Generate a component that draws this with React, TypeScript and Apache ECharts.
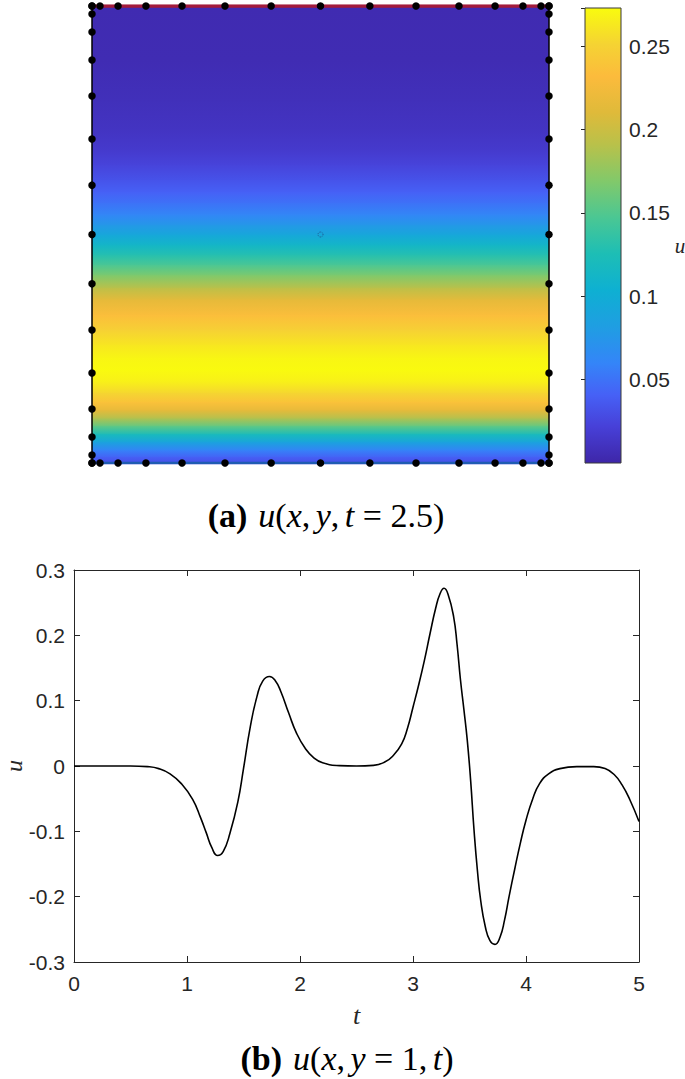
import React, { useEffect, useRef } from "react";
import * as echarts from "echarts";

// ---- Panel (a): vertical profile of u(x, y, t = 2.5) (y normalised: 0 bottom, 1 top) ----
const profileY = [1.0, 0.882, 0.794, 0.729, 0.685, 0.652, 0.619, 0.593, 0.569, 0.543, 0.521, 0.499, 0.477, 0.455, 0.433, 0.411, 0.383, 0.357, 0.324, 0.291, 0.258, 0.23, 0.204, 0.177, 0.153, 0.133, 0.116, 0.098, 0.081, 0.063, 0.046, 0.028, 0.013, 0.0];
const profileU = [0.004, 0.005, 0.008, 0.012, 0.017, 0.024, 0.033, 0.041, 0.05, 0.062, 0.077, 0.094, 0.113, 0.13, 0.148, 0.168, 0.193, 0.215, 0.234, 0.249, 0.262, 0.27, 0.2725, 0.266, 0.252, 0.237, 0.215, 0.187, 0.155, 0.12, 0.088, 0.058, 0.04, 0.03];

// boundary nodes (same positions on every side)
const nodePositions = [0, 0.0175, 0.057, 0.118, 0.197, 0.291, 0.392, 0.5, 0.608, 0.709, 0.803, 0.882, 0.943, 0.9825, 1];
const centerPoint = [0.5, 0.5];

const colorbarMin = 0;
const colorbarMax = 0.2728;
const colorbarTicks = [0.05, 0.1, 0.15, 0.2, 0.25];

// ---- Panel (b): u(x, y = 1, t) ----
const timeT = [0, 0.5, 0.65, 0.75, 0.85, 0.95, 1.05, 1.12, 1.17, 1.22, 1.27, 1.32, 1.38, 1.45, 1.5, 1.56, 1.62, 1.67, 1.73, 1.78, 1.83, 1.9, 1.97, 2.05, 2.12, 2.2, 2.35, 2.5, 2.65, 2.75, 2.82, 2.9, 2.95, 3.0, 3.05, 3.1, 3.15, 3.2, 3.24, 3.275, 3.31, 3.36, 3.39, 3.42, 3.45, 3.48, 3.51, 3.54, 3.57, 3.6, 3.64, 3.68, 3.725, 3.77, 3.81, 3.85, 3.9, 3.95, 4.0, 4.06, 4.12, 4.2, 4.3, 4.45, 4.6, 4.7, 4.78, 4.85, 4.92, 5.0];
const valueU = [0, 0, -0.001, -0.004, -0.012, -0.027, -0.051, -0.079, -0.102, -0.125, -0.137, -0.131, -0.103, -0.055, -0.004, 0.06, 0.107, 0.13, 0.137, 0.131, 0.114, 0.081, 0.05, 0.026, 0.013, 0.005, 0.0005, 0, 0.001, 0.006, 0.015, 0.034, 0.057, 0.09, 0.124, 0.161, 0.202, 0.241, 0.264, 0.272, 0.263, 0.228, 0.186, 0.132, 0.087, 0.04, -0.022, -0.098, -0.16, -0.207, -0.246, -0.267, -0.273, -0.262, -0.236, -0.2, -0.158, -0.118, -0.083, -0.05, -0.027, -0.012, -0.004, -0.001, -0.001, -0.004, -0.013, -0.029, -0.052, -0.085];
const tTicks = [0, 1, 2, 3, 4, 5];
const uTicks = [-0.3, -0.2, -0.1, 0, 0.1, 0.2, 0.3];

// parula colormap anchors
const parulaStops: [number, string][] = [
  [0.0, "#3E26A8"],
  [0.08, "#4740D8"],
  [0.15, "#4661F6"],
  [0.22, "#3485F8"],
  [0.3, "#1F9EE2"],
  [0.38, "#0EB0D2"],
  [0.46, "#1DBEB5"],
  [0.54, "#4BC793"],
  [0.62, "#82C96A"],
  [0.7, "#B9C14A"],
  [0.77, "#DFBA3A"],
  [0.85, "#FCBB3C"],
  [0.92, "#F5D333"],
  [1.0, "#F9FB0E"],
];

function hexToRgb(h: string) {
  const n = parseInt(h.slice(1), 16);
  return [(n >> 16) & 255, (n >> 8) & 255, n & 255];
}

function parula(f: number) {
  const x = Math.max(0, Math.min(1, f));
  for (let i = 0; i < parulaStops.length - 1; i++) {
    const [a, ca] = parulaStops[i];
    const [b, cb] = parulaStops[i + 1];
    if (x >= a && x <= b) {
      const k = (x - a) / (b - a);
      const A = hexToRgb(ca);
      const B = hexToRgb(cb);
      const c = A.map((v, j) => Math.round(v + (B[j] - v) * k));
      return `rgb(${c[0]},${c[1]},${c[2]})`;
    }
  }
  return parulaStops[parulaStops.length - 1][1];
}

const uColor = (u: number) => parula((u - colorbarMin) / (colorbarMax - colorbarMin));

const LABEL_FONT = "'Liberation Sans', Arial, Helvetica, sans-serif";
const SERIF = "'Liberation Serif', 'Times New Roman', serif";
const AXIS_COLOR = "#262626";

export default function App() {
  const ref = useRef<HTMLDivElement>(null);

  useEffect(() => {
    document.body.style.margin = "0";
    const chart = echarts.init(ref.current!, undefined, { renderer: "svg" });

    const segments = profileY.slice(0, -1).map((y, i) => [y, profileY[i + 1], profileU[i], profileU[i + 1]]);
    const nodes: number[][] = [];
    nodePositions.forEach((p) => {
      nodes.push([p, 0], [p, 1], [0, p], [1, p]);
    });
    const lineData = timeT.map((t, i) => [t, valueU[i]]);

    const tickLabel = (ticks: number[]) => (v: number) => {
      const hit = ticks.find((t) => Math.abs(t - v) < 1e-6);
      if (hit === undefined) return "";
      return String(Math.round(hit * 100) / 100);
    };

    const boxAxis = {
      axisLine: { show: true, onZero: false, lineStyle: { color: AXIS_COLOR, width: 1 } },
      axisTick: { show: true, inside: true, length: 6, lineStyle: { color: AXIS_COLOR, width: 1 } },
      splitLine: { show: false },
    };

    const FS = 34;
    const rich = {
      b: { fontFamily: SERIF, fontWeight: "bold", fontSize: FS, fill: "#000" },
      i: { fontFamily: SERIF, fontStyle: "italic", fontSize: FS, fill: "#000" },
      r: { fontFamily: SERIF, fontSize: FS, fill: "#000" },
      s: { fontFamily: SERIF, fontSize: 22, fill: "#000" },
    };

    const option: any = {
      animation: false,
      backgroundColor: "#ffffff",
      grid: [
        { left: 92, top: 6, width: 457, height: 457, outerBoundsMode: "none", containLabel: false },
        { left: 585, top: 8, width: 36, height: 455, outerBoundsMode: "none", containLabel: false },
        { left: 74, top: 570, width: 565, height: 392, outerBoundsMode: "none", containLabel: false },
      ],
      xAxis: [
        { gridIndex: 0, type: "value", min: 0, max: 1, show: false },
        { gridIndex: 1, type: "value", min: 0, max: 1, show: false },
        {
          gridIndex: 2, type: "value", min: 0, max: 5, interval: 1, position: "bottom",
          ...boxAxis,
          axisLabel: { margin: 11, fontSize: 21, color: AXIS_COLOR, fontFamily: LABEL_FONT, formatter: tickLabel(tTicks) },
          name: "t", nameLocation: "middle", nameGap: 40,
          nameTextStyle: { fontFamily: SERIF, fontStyle: "italic", fontSize: 26, color: AXIS_COLOR },
        },
        {
          gridIndex: 2, type: "value", min: 0, max: 5, interval: 1, position: "top",
          ...boxAxis, axisLabel: { show: false },
        },
      ],
      yAxis: [
        { gridIndex: 0, type: "value", min: 0, max: 1, show: false },
        {
          gridIndex: 1, type: "value", min: colorbarMin, max: colorbarMax, interval: 0.05, position: "right",
          axisLine: { show: true, lineStyle: { color: "#9a9a9a", width: 1 } },
          axisTick: { show: true, inside: true, length: 4, lineStyle: { color: AXIS_COLOR } },
          splitLine: { show: false },
          axisLabel: { margin: 8, fontSize: 21, color: AXIS_COLOR, fontFamily: LABEL_FONT, formatter: tickLabel(colorbarTicks), showMinLabel: false },
          name: "u", nameLocation: "middle", nameRotate: 0, nameGap: 46,
          nameTextStyle: { fontFamily: SERIF, fontStyle: "italic", fontSize: 21, color: AXIS_COLOR, verticalAlign: "top" },
        },
        {
          gridIndex: 2, type: "value", min: -0.3, max: 0.3, interval: 0.1, position: "left",
          ...boxAxis,
          axisLabel: { margin: 9, fontSize: 21, color: AXIS_COLOR, fontFamily: LABEL_FONT, formatter: tickLabel(uTicks) },
        },
        {
          gridIndex: 2, type: "value", min: -0.3, max: 0.3, interval: 0.1, position: "right",
          ...boxAxis, axisLabel: { show: false },
        },
      ],
      series: [
        {
          type: "custom",
          xAxisIndex: 0,
          yAxisIndex: 0,
          data: segments,
          silent: true,
          renderItem: (params: any, api: any) => {
            const p0 = api.coord([0, api.value(0)]);
            const p1 = api.coord([1, api.value(1)]);
            return {
              type: "rect",
              shape: { x: p0[0], y: p0[1], width: p1[0] - p0[0], height: p1[1] - p0[1] + 1.2 },
              style: {
                fill: new echarts.graphic.LinearGradient(0, 0, 0, 1, [
                  { offset: 0, color: uColor(api.value(2)) },
                  { offset: 1, color: uColor(api.value(3)) },
                ]),
              },
            };
          },
          z: 1,
        },
        {
          type: "line", xAxisIndex: 0, yAxisIndex: 0, data: [[0, 0], [0, 1]], symbol: "none",
          lineStyle: { color: "#000", width: 1.5 }, z: 3, silent: true,
        },
        {
          type: "line", xAxisIndex: 0, yAxisIndex: 0, data: [[1, 0], [1, 1]], symbol: "none",
          lineStyle: { color: "#000", width: 1.5 }, z: 3, silent: true,
        },
        {
          type: "line", xAxisIndex: 0, yAxisIndex: 0, data: [[0, 1], [1, 1]], symbol: "none",
          lineStyle: { color: "#a31b3c", width: 3.5 }, z: 3, silent: true,
        },
        {
          type: "line", xAxisIndex: 0, yAxisIndex: 0, data: [[0, 0], [1, 0]], symbol: "none",
          lineStyle: { color: "#1f5cb2", width: 2.5 }, z: 3, silent: true,
        },
        {
          type: "scatter", xAxisIndex: 0, yAxisIndex: 0, data: nodes, symbol: "circle", symbolSize: 7.5,
          itemStyle: { color: "#000", opacity: 1 }, z: 5, silent: true,
        },
        {
          type: "scatter", xAxisIndex: 0, yAxisIndex: 0, data: [centerPoint], symbol: "circle", symbolSize: 5,
          itemStyle: { color: "transparent", borderColor: "#22306a", borderWidth: 0.8, borderType: "dotted" }, z: 5, silent: true,
        },
        {
          type: "custom",
          xAxisIndex: 1,
          yAxisIndex: 1,
          data: [[colorbarMin, colorbarMax]],
          silent: true,
          renderItem: (params: any, api: any) => {
            const top = api.coord([0, api.value(1)]);
            const bot = api.coord([1, api.value(0)]);
            const stops = parulaStops
              .map(([f, c]) => ({ offset: 1 - f, color: c }))
              .sort((a, b) => a.offset - b.offset);
            return {
              type: "rect",
              shape: { x: top[0], y: top[1], width: bot[0] - top[0], height: bot[1] - top[1] },
              style: {
                fill: new echarts.graphic.LinearGradient(0, 0, 0, 1, stops),
                stroke: "#3a3a3a",
                lineWidth: 1,
              },
            };
          },
          z: 1,
        },
        {
          type: "line",
          xAxisIndex: 2,
          yAxisIndex: 2,
          data: lineData,
          symbol: "none",
          smooth: 0.5,
          lineStyle: { color: "#000", width: 1.6 },
          silent: true,
          z: 3,
        },
      ],
      graphic: [
        {
          type: "text",
          x: 14,
          y: 766,
          rotation: Math.PI / 2,
          style: {
            text: "u",
            fontFamily: SERIF,
            fontStyle: "italic",
            fontSize: 24,
            fill: AXIS_COLOR,
            align: "center",
            verticalAlign: "middle",
          },
        },
        {
          type: "text",
          x: 326,
          y: 515,
          style: {
            text: "{b|(a)}{s|  }{i|u}{r|(}{i|x}{r|,}{s| }{i|y}{r|,}{s| }{i|t}{r| = 2.5)}",
            align: "center",
            verticalAlign: "middle",
            rich,
          },
        },
        {
          type: "text",
          x: 347,
          y: 1058,
          style: {
            text: "{b|(b)}{s|  }{i|u}{r|(}{i|x}{r|,}{s| }{i|y}{r| = 1,}{s| }{i|t}{r|)}",
            align: "center",
            verticalAlign: "middle",
            rich,
          },
        },
      ],
    };

    chart.setOption(option);
    return () => chart.dispose();
  }, []);

  return <div ref={ref} style={{ position: "absolute", left: 0, top: 0, width: 685, height: 1079 }} />;
}
